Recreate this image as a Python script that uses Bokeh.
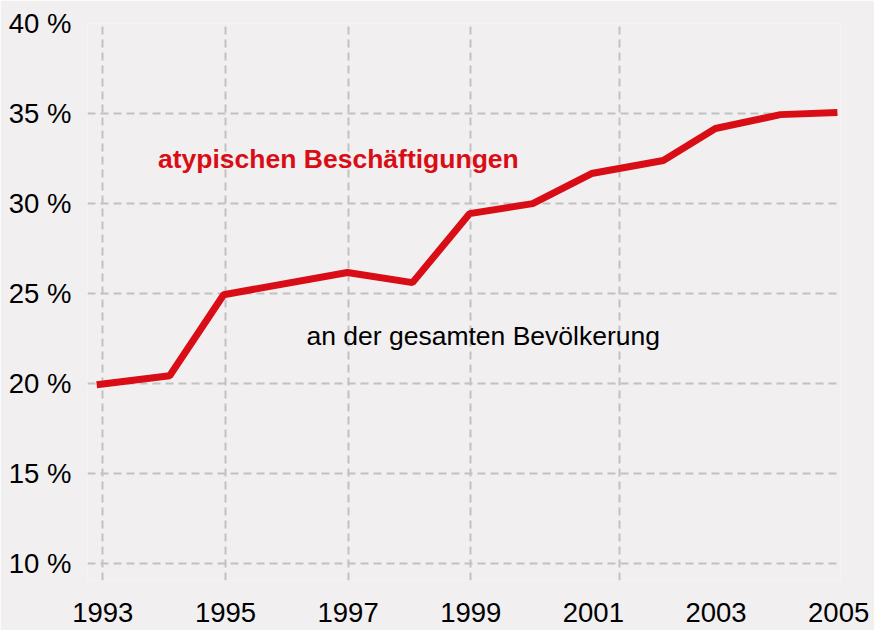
from bokeh.plotting import figure
from bokeh.models import FixedTicker, Label, Range1d
from bokeh.embed import file_html
from bokeh.resources import INLINE

# data (share of atypical employment, %)
years = [1992.90, 1994.09, 1994.97, 1996.99, 1998.05, 1998.98, 2000.01,
         2000.97, 2002.14, 2002.99, 2004.05, 2004.98]
share = [19.94, 20.44, 24.94, 26.17, 25.61, 29.44, 30.00,
         31.67, 32.39, 34.17, 34.94, 35.06]

x_ticks = [1993, 1995, 1997, 1999, 2001, 2003, 2005]
x_labels = ["1993", "1995", "1997", "1999", "2001", "2003", "2005"]
x_grid = [1993, 1995, 1997, 1999, 2001.42]
y_ticks = [10, 15, 20, 25, 30, 35, 40]
y_labels = ["10 %", "15 %", "20 %", "25 %", "30 %", "35 %", "40 %"]

title_red = "atypischen Beschäftigungen"
title_black = "an der gesamten Bevölkerung"

BG = "#f1eff0"
RED = "#d90d15"
GRID = "#c2c2c2"
FONT = "Liberation Sans"

p = figure(width=874, height=630, output_backend="svg", toolbar_location=None,
           x_range=Range1d(1992.75, 2005.03), y_range=Range1d(9.07, 40.0),
           min_border_left=87, min_border_right=34, min_border_top=23,
           min_border_bottom=50)
p.background_fill_color = BG
p.border_fill_color = BG
p.outline_line_color = None

p.line(years, share, line_width=7, line_color=RED, line_cap="butt")

for ax in (p.xaxis[0], p.yaxis[0]):
    ax.axis_line_color = None
    ax.major_tick_line_color = None
    ax.minor_tick_line_color = None
    ax.major_label_text_font = FONT
    ax.major_label_text_font_size = "27.5px"
    ax.major_label_text_color = "black"

p.xaxis[0].ticker = FixedTicker(ticks=x_ticks)
p.xaxis[0].major_label_overrides = {t: l for t, l in zip(x_ticks, x_labels)}
p.xaxis[0].major_label_standoff = 16
p.yaxis[0].ticker = FixedTicker(ticks=y_ticks)
p.yaxis[0].major_label_overrides = {t: l for t, l in zip(y_ticks, y_labels)}
p.yaxis[0].major_label_standoff = 10

p.xgrid[0].ticker = FixedTicker(ticks=x_grid)
p.ygrid[0].ticker = FixedTicker(ticks=y_ticks)
for g in (p.xgrid[0], p.ygrid[0]):
    g.grid_line_color = GRID
    g.grid_line_width = 2
    g.grid_line_dash = "8 5"

p.add_layout(Label(x=1993.90, y=32.50, text=title_red, text_font=FONT,
                   text_font_size="26.5px", text_font_style="bold",
                   text_color=RED, text_align="left",
                   text_baseline="middle"))
p.add_layout(Label(x=1996.32, y=22.67, text=title_black, text_font=FONT,
                   text_font_size="26.5px", text_color="black",
                   text_align="left", text_baseline="middle"))

open("out.html", "w").write(file_html(p, INLINE))
